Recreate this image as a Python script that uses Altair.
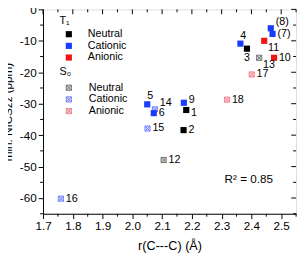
import altair as alt
import pandas as pd

# ---- data ----
t1_names = ["1", "2", "3", "4", "5", "6", "(7)", "(8)", "9", "10", "11"]
t1_r = [2.181, 2.172, 2.385, 2.363, 2.050, 2.072, 2.471, 2.465, 2.173, 2.476, 2.443]
t1_nics = [-32.0, -38.4, -12.5, -10.9, -30.2, -33.0, -7.8, -6.0, -29.7, -15.4, -10.0]
t1_state = ["Neutral", "Neutral", "Neutral", "Cationic", "Cationic", "Cationic",
            "Cationic", "Cationic", "Cationic", "Anionic", "Anionic"]

s0_names = ["12", "13", "14", "15", "16", "17", "18"]
s0_r = [2.105, 2.426, 2.076, 2.051, 1.760, 2.401, 2.318]
s0_nics = [-47.9, -15.4, -31.8, -37.9, -60.2, -20.7, -28.7]
s0_state = ["Neutral", "Neutral", "Cationic", "Cationic", "Cationic", "Anionic", "Anionic"]

states = ["Neutral", "Cationic", "Anionic"]
x_ticks = [1.7, 1.8, 1.9, 2.0, 2.1, 2.2, 2.3, 2.4, 2.5]
x_minor = [1.75, 1.85, 1.95, 2.05, 2.15, 2.25, 2.35, 2.45, 2.55]
y_ticks = [-60, -50, -40, -30, -20, -10, 0]
y_minor = [-65, -55, -45, -35, -25, -15, -5]
r2_text = ["R² = 0.85"]
r2_pos_r = [2.391]
r2_pos_nics = [-53.9]

# label placement groups
lab_right = ["2", "6", "(7)", "10", "12", "15", "16", "17", "18"]
lab_right_hi = ["9"]
lab_right_lo = ["1"]
lab_right_up = ["(8)", "14"]
lab_right_down = ["11", "13"]
lab_above = ["4", "5"]
lab_below = ["3"]

# ---- tables ----
t1 = pd.DataFrame({"name": t1_names, "r": t1_r, "nics": t1_nics, "t1state": t1_state})
s0 = pd.DataFrame({"name": s0_names, "r": s0_r, "nics": s0_nics,
                   "s0state": ["S0:" + s for s in s0_state]})
allpts = pd.concat([t1[["name", "r", "nics"]], s0[["name", "r", "nics"]]],
                   ignore_index=True)
xt = pd.DataFrame({"r": x_ticks})
xm = pd.DataFrame({"r": x_minor})
yt = pd.DataFrame({"nics": y_ticks})
ym = pd.DataFrame({"nics": y_minor})
r2 = pd.DataFrame({"t": r2_text, "r": r2_pos_r, "nics": r2_pos_nics})

W, H = 260, 210
FONT = "Liberation Sans"

xs = alt.Scale(domain=[1.7, 2.55], nice=False, zero=False)
ys = alt.Scale(domain=[-65, 0], nice=False, zero=False)

x_axis = alt.Axis(
    title="r(C---C) (Å)", values=x_ticks, format=".1f", tickSize=5, grid=False,
    labelFontSize=12, titleFontSize=13, titleFontWeight="normal", labelFont=FONT,
    titleFont=FONT, domainColor="black", tickColor="black", labelColor="black",
    titleColor="black", labelPadding=2, titlePadding=9, labelFlush=False,
    labelOverlap=False)
y_axis = alt.Axis(
    title="min. NICSzz (ppm)", values=y_ticks, labelExpr="datum.value + ''",
    tickSize=5, grid=False, labelFontSize=12, titleFontSize=12,
    titleFontWeight="normal", labelFont=FONT, titleFont=FONT, domainColor="black",
    tickColor="black", labelColor="black", titleColor="black", labelPadding=2,
    titlePadding=5, labelFlush=False, labelOverlap=False)

X = alt.X("r:Q", scale=xs, axis=x_axis)
Y = alt.Y("nics:Q", scale=ys, axis=y_axis)

t1_colors = ["#000000", "#1a3cff", "#f01616"]
s0_strokes = ["#555555", "#5a6cff", "#f06a78"]
s0_fills = ["#dcdcdc", "#d4daff", "#ffd6dc"]
hatch = "M-1,-1H1V1H-1Z M-1,-1L1,1 M-1,1L1,-1"

t1_layer = alt.Chart(t1).mark_point(shape="square", filled=True, size=40, opacity=1).encode(
    x=X, y=Y,
    fill=alt.Fill("t1state:N", scale=alt.Scale(domain=states, range=t1_colors),
                  legend=alt.Legend(title="T₁", orient="none", legendX=17, legendY=6,
                                    symbolType="square", symbolSize=40,
                                    symbolOffset=4, labelOffset=14, rowPadding=0,
                                    titlePadding=3, labelFontSize=11, titleFontSize=11,
                                    titleFontWeight="normal", labelFont=FONT,
                                    titleFont=FONT, symbolStrokeWidth=0,
                                    labelColor="black", titleColor="black")),
)

s0_domain = ["S0:" + s for s in states]
s0_legend = alt.Legend(title="S₀", orient="none", legendX=17, legendY=58,
                       symbolType=hatch, symbolSize=28, symbolOffset=4,
                       labelOffset=15, rowPadding=0, titlePadding=6,
                       labelExpr="replace(datum.label, 'S0:', '')",
                       labelFontSize=11, titleFontSize=11, titleFontWeight="normal",
                       labelFont=FONT, titleFont=FONT, symbolFillColor="#e8e8f0",
                       symbolStrokeWidth=0.8, labelColor="black", titleColor="black")

s0_layers = []
for i, (st, fc) in enumerate(zip(s0_domain, s0_fills)):
    s0_layers.append(
        alt.Chart(s0).transform_filter(alt.datum.s0state == st).mark_point(
            shape=hatch, filled=False, fill=fc, fillOpacity=1, size=28,
            strokeWidth=0.8, opacity=1).encode(
            x=X, y=Y,
            stroke=alt.Stroke("s0state:N",
                              scale=alt.Scale(domain=s0_domain, range=s0_strokes),
                              legend=s0_legend if i == 0 else None),
        )
    )


def labels(names, dx, dy, align="left", baseline="middle"):
    return alt.Chart(allpts).transform_filter(
        alt.FieldOneOfPredicate(field="name", oneOf=names)
    ).mark_text(dx=dx, dy=dy, align=align, baseline=baseline, fontSize=11,
                font=FONT, color="black").encode(x=X, y=Y, text="name:N")


lab_layers = [
    labels(lab_right, 5, 0),
    labels(lab_right_hi, 5, -3),
    labels(lab_right_lo, 5, 3),
    labels(lab_right_up, 5, -6),
    labels(lab_right_down, 4, 7),
    labels(lab_above, 3, -8, align="center"),
    labels(lab_below, 0, 10, align="center"),
]

r2_layer = alt.Chart(r2).mark_text(fontSize=12, font=FONT, color="black").encode(
    x=X, y=Y, text="t:N")

# extra ticks: minor outside on bottom/left, inside mirrored on top/right
bx_minor = alt.Chart(xm).mark_rule(color="black").encode(
    x=X, y=alt.value(H), y2=alt.value(H + 3))
top_major = alt.Chart(xt).mark_rule(color="black").encode(
    x=X, y=alt.value(0), y2=alt.value(5))
top_minor = alt.Chart(xm).mark_rule(color="black").encode(
    x=X, y=alt.value(0), y2=alt.value(3))
ly_minor = alt.Chart(ym).mark_rule(color="black").encode(
    y=Y, x=alt.value(-3), x2=alt.value(0))
right_major = alt.Chart(yt).mark_rule(color="black").encode(
    y=Y, x=alt.value(W - 5), x2=alt.value(W))
right_minor = alt.Chart(ym).mark_rule(color="black").encode(
    y=Y, x=alt.value(W - 3), x2=alt.value(W))

chart = alt.layer(
    *s0_layers, t1_layer,
    bx_minor, top_major, top_minor, ly_minor, right_major, right_minor,
    *lab_layers, r2_layer
).properties(
    width=W, height=H,
    autosize=alt.AutoSizeParams(type="none"),
    padding={"left": 36, "top": -2, "right": 3, "bottom": 40},
).configure_view(stroke="black", strokeWidth=1).configure_axis(
    labelOverlap=False
).configure(background="white")

chart.save("out.html", embed_options={"renderer": "svg", "actions": False})
